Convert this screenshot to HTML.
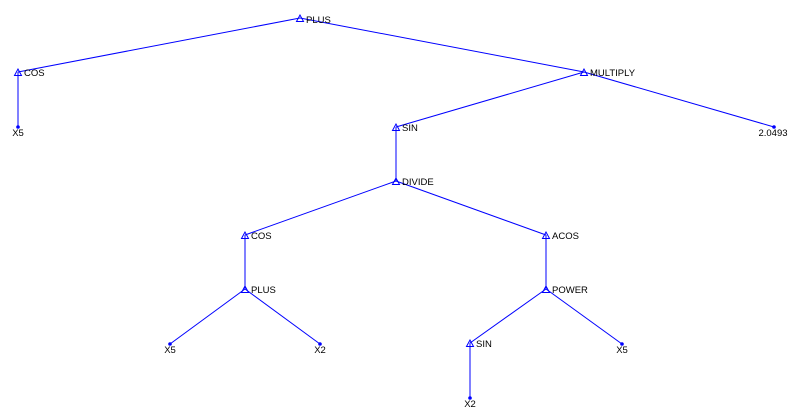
<!DOCTYPE html>
<html><head><meta charset="utf-8"><style>
html,body{margin:0;padding:0;background:#fff;}
svg{display:block;}
text{font-family:"Liberation Sans",sans-serif;font-size:9.5px;fill:#000;}
</style></head><body>
<svg width="798" height="417" viewBox="0 0 798 417">
<g stroke="#0000ff" stroke-width="1" fill="none">
<line x1="300" y1="18" x2="18" y2="72"/>
<line x1="300" y1="18" x2="584" y2="72"/>
<line x1="18" y1="72" x2="18" y2="127"/>
<line x1="584" y1="72" x2="396" y2="127"/>
<line x1="584" y1="72" x2="774" y2="127"/>
<line x1="396" y1="127" x2="396" y2="181"/>
<line x1="396" y1="181" x2="245" y2="235"/>
<line x1="396" y1="181" x2="546" y2="235"/>
<line x1="245" y1="235" x2="245" y2="289"/>
<line x1="546" y1="235" x2="546" y2="289"/>
<line x1="245" y1="289" x2="170" y2="344"/>
<line x1="245" y1="289" x2="320" y2="344"/>
<line x1="546" y1="289" x2="470" y2="343"/>
<line x1="546" y1="289" x2="622" y2="344"/>
<line x1="470" y1="343" x2="470" y2="398"/>
</g>
<g stroke="#0000ff" stroke-width="1" fill="none">
<path d="M300,15 L296.5,21.5 L303.5,21.5 Z"/>
<path d="M18,69 L14.5,75.5 L21.5,75.5 Z"/>
<path d="M584,69 L580.5,75.5 L587.5,75.5 Z"/>
<path d="M396,124 L392.5,130.5 L399.5,130.5 Z"/>
<path d="M396,178 L392.5,184.5 L399.5,184.5 Z"/>
<path d="M245,232 L241.5,238.5 L248.5,238.5 Z"/>
<path d="M546,232 L542.5,238.5 L549.5,238.5 Z"/>
<path d="M245,286 L241.5,292.5 L248.5,292.5 Z"/>
<path d="M546,286 L542.5,292.5 L549.5,292.5 Z"/>
<path d="M470,340 L466.5,346.5 L473.5,346.5 Z"/>
</g>
<g fill="#0000ff">
<circle cx="18" cy="127" r="1.8"/>
<circle cx="774" cy="127" r="1.8"/>
<circle cx="170" cy="344" r="1.8"/>
<circle cx="320" cy="344" r="1.8"/>
<circle cx="622" cy="344" r="1.8"/>
<circle cx="470" cy="398" r="1.8"/>
</g>
<text x="306" y="23">PLUS</text>
<text x="24" y="76">COS</text>
<text x="590" y="76">MULTIPLY</text>
<text x="402" y="131">SIN</text>
<text x="402" y="185">DIVIDE</text>
<text x="251" y="239">COS</text>
<text x="552" y="239">ACOS</text>
<text x="251" y="293">PLUS</text>
<text x="552" y="293">POWER</text>
<text x="476" y="347">SIN</text>
<g text-anchor="middle">
<text x="18" y="136">X5</text>
<text x="773" y="136">2.0493</text>
<text x="170" y="353">X5</text>
<text x="320" y="353">X2</text>
<text x="622" y="353">X5</text>
<text x="470" y="407">X2</text>
</g>
</svg>
</body></html>
